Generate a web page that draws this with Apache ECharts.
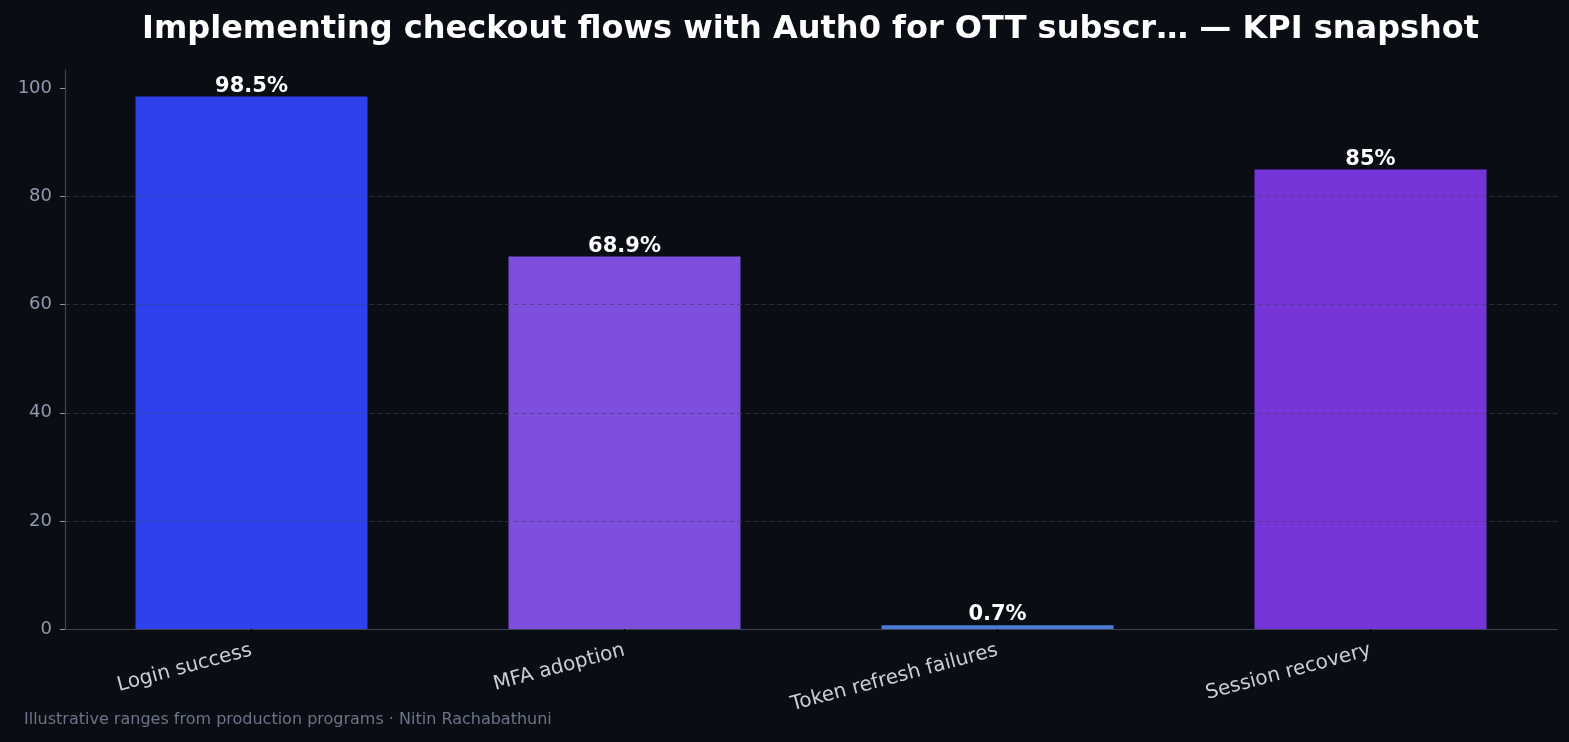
<!DOCTYPE html>
<html>
<head>
  <meta charset="utf-8" />
  <title>KPI snapshot</title>
  <script src="https://cdn.jsdelivr.net/npm/echarts@6/dist/echarts.min.js"></script>
  <style>
    html, body {
      height: 100%;
      margin: 0;
      padding: 0;
      overflow: hidden;
      background: #0a0d14;
    }

    #main {
      width: 1569px;
      height: 742px;
    }
  </style>
</head>
<body>
  <div id="main"></div>

  <script type="text/javascript">
    const categories = ['Login success', 'MFA adoption', 'Token refresh failures', 'Session recovery'];
    const values = [98.5, 68.9, 0.7, 85];
    const barColors = ['#2e41ed', '#7e4fdd', '#4c7bd4', '#7535d9'];
    const yTicks = [0, 20, 40, 60, 80, 100];

    const chart = echarts.init(document.getElementById('main'));
    const font = 'DejaVu Sans, sans-serif';

    const option = {
      backgroundColor: '#0a0d14',
      animation: false,
      title: {
        text: 'Implementing checkout flows with Auth0 for OTT subscr\u2026 \u2014 KPI snapshot',
        left: 137,
        top: 9,
        textStyle: { color: '#ffffff', fontSize: 32, fontWeight: 'bold', fontFamily: font }
      },
      graphic: [{
        type: 'text',
        left: 24,
        top: 712,
        style: {
          text: 'Illustrative ranges from production programs \u00b7 Nitin Rachabathuni',
          fill: '#6b7488',
          font: '16px ' + font
        }
      }],
      grid: { left: 65, right: 12, top: 70, bottom: 113 },
      xAxis: {
        type: 'category',
        data: categories,
        z: 5,
        axisLine: { lineStyle: { color: '#3b4556', width: 1.2 } },
        axisTick: { show: true, alignWithLabel: true, length: 5, lineStyle: { color: '#000000' } },
        axisLabel: {
          color: '#c9ceda',
          fontSize: 20,
          fontFamily: font,
          rotate: 15,
          margin: 21,
          interval: 0
        }
      },
      yAxis: {
        type: 'value',
        min: 0,
        max: 103.425,
        interval: 20,
        z: 5,
        axisLine: { show: true, lineStyle: { color: '#3b4556', width: 1.2 } },
        axisTick: { show: true, length: 5, customValues: yTicks, lineStyle: { color: '#8a94a8' } },
        axisLabel: {
          color: '#8f9ab0',
          fontSize: 18,
          fontFamily: font,
          margin: 13,
          customValues: yTicks
        },
        splitLine: {
          show: true,
          showMinLine: false,
          showMaxLine: false,
          lineStyle: { color: 'rgba(60,68,88,0.6)', type: [5, 3], width: 1 }
        }
      },
      series: [{
        type: 'bar',
        barWidth: 232,
        data: values.map((v, i) => ({ value: v, itemStyle: { color: barColors[i] } })),
        label: {
          show: true,
          position: 'top',
          distance: 0,
          color: '#ffffff',
          fontSize: 21,
          fontWeight: 'bold',
          fontFamily: font,
          formatter: p => p.value + '%'
        }
      }]
    };

    chart.setOption(option);
  </script>
</body>
</html>
